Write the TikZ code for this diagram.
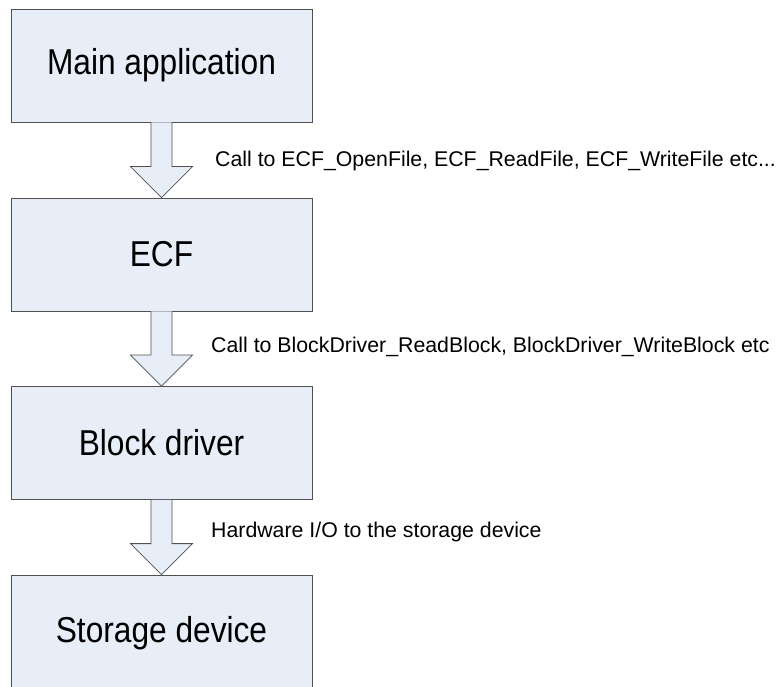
\documentclass[tikz,border=0pt]{standalone}
\usepackage{fontspec}
\setmainfont{Liberation Sans}
\newfontfamily\boxfont[FakeStretch=0.88]{Liberation Sans}
\usepackage{xcolor}
\usetikzlibrary{positioning,calc}

\definecolor{boxfill}{RGB}{232,238,247}
\definecolor{boxline}{RGB}{80,80,80}

% fat hollow arrow from the bottom of one box to the top of the next
\newcommand{\fatarrow}[2]{%
	\draw[fat] ($(#1.south)+(-10.5,0)$) -- ($(#2.north)+(-10.5,-31)$) -- ($(#2.north)+(-31,-31)$)
		-- (#2.north) -- ($(#2.north)+(31,-31)$) -- ($(#2.north)+(10.5,-31)$) -- ($(#1.south)+(10.5,0)$);}

\begin{document}
\begin{tikzpicture}[x=1pt,y=-1pt,
		box/.style={draw=boxline,fill=boxfill,line width=0.8pt,minimum width=301pt,minimum height=113pt,
			inner sep=0pt,font=\boxfont\fontsize{36}{40}\selectfont},
		fat/.style={draw=boxline,fill=boxfill,line width=0.8pt,line join=miter},
		lbl/.style={anchor=base west,inner sep=0pt,font=\fontsize{21.3}{24}\selectfont}]
		\useasboundingbox (0,0) rectangle (780,687);
		\node[box] (app) at (161.5,65.5) {Main application};
		\node[box] (ecf) at (161.5,254.5) {ECF};
		\node[box] (drv) at (161.5,443) {Block driver};
		\node[box,minimum height=116pt] (dev) at (161.5,633) {Storage device};
		\fatarrow{app}{ecf}
		\fatarrow{ecf}{drv}
		\fatarrow{drv}{dev}
		\node[lbl] (l1) at (215,167) {Call to ECF\_OpenFile, ECF\_ReadFile, ECF\_WriteFile etc...};
		\node[lbl] (l2) at (211,353) {Call to BlockDriver\_ReadBlock, BlockDriver\_WriteBlock etc};
		\node[lbl] (l3) at (211,537) {Hardware I/O to the storage device};
	\end{tikzpicture}
\end{document}
